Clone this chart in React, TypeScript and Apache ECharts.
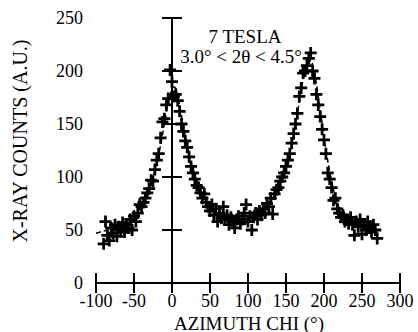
import React, { useEffect, useRef } from "react";
import * as echarts from "echarts";

const chiValues: number[] = [
  -90, -87.5, -85, -82.5, -80, -77.5, -75, -72.5, -70, -67.5, -65, -62.5, -60, -57.5, -55, -52.5,
  -50, -47.5, -45, -42.5, -40, -37.5, -35, -32.5, -30, -27.5, -25, -22.5, -20, -17.5, -15, -12.5,
  -10, -7.5, -5, -2.5, 0, 2.5, 5, 7.5, 10, 12.5, 15, 17.5, 20, 22.5, 25, 27.5, 30, 32.5, 35, 37.5,
  40, 42.5, 45, 47.5, 50, 52.5, 55, 57.5, 60, 62.5, 65, 67.5, 70, 72.5, 75, 77.5, 80, 82.5, 85, 87.5,
  90, 92.5, 95, 97.5, 100, 102.5, 105, 107.5, 110, 112.5, 115, 117.5, 120, 122.5, 125, 127.5, 130,
  132.5, 135, 137.5, 140, 142.5, 145, 147.5, 150, 152.5, 155, 157.5, 160, 162.5, 165, 167.5, 170,
  172.5, 175, 177.5, 180, 182.5, 185, 187.5, 190, 192.5, 195, 197.5, 200, 202.5, 205, 207.5, 210,
  212.5, 215, 217.5, 220, 222.5, 225, 227.5, 230, 232.5, 235, 237.5, 240, 242.5, 245, 247.5, 250,
  252.5, 255, 257.5, 260, 262.5, 265, 267.5, 270,
];

const countValues: number[] = [
  37, 58, 45, 40, 52, 47, 55, 44, 53, 50, 57, 48, 55, 52, 60, 50,
  63, 58, 66, 74, 72, 76, 80, 85, 89, 97, 96, 107, 116, 122, 137, 152,
  155, 168, 174, 201, 190, 176, 178, 172, 162, 150, 143, 134, 128, 119, 110, 104, 98, 92, 90, 85,
  80, 84, 76, 72, 68, 74, 64, 70, 58, 66, 61, 72, 60, 64, 55, 62, 58, 52, 60, 63,
  56, 60, 66, 74, 58, 63, 50, 62, 66, 60, 68, 64, 70, 66, 75, 72, 80,
  65, 84, 88, 90, 96, 100, 104, 110, 116, 122, 132, 141, 150, 160, 176, 184,
  198, 200, 205, 212, 217, 200, 193, 178, 168, 157, 145, 135, 122, 104, 98, 90,
  78, 80, 70, 66, 62, 64, 58, 60, 56, 62, 55, 45, 58, 53, 60, 46,
  55, 50, 58, 52, 48, 55, 50, 42,
];

const fitChi: number[] = [
  -100, -90, -80, -70, -60, -50, -40, -30, -25, -20, -15, -10, -5, 0, 3, 5, 10, 15, 20, 25, 30, 35,
  40, 50, 60, 70, 80, 90, 100, 110, 120, 130, 140, 150, 155, 160, 165, 170, 175, 180, 183, 185, 190,
  195, 200, 205, 210, 215, 220, 230, 240, 250, 260, 270,
];
const fitCounts: number[] = [
  47, 49, 51, 54, 58, 64, 74, 90, 100, 113, 130, 150, 170, 183, 185, 183, 168, 148, 130, 114, 101, 91,
  83, 72, 66, 62, 60, 59, 60, 63, 68, 77, 89, 108, 122, 140, 160, 182, 200, 209, 210, 206, 188,
  163, 138, 115, 96, 81, 71, 61, 56, 53, 51, 50,
];

const xTicks = { min: -100, max: 300, interval: 50 };
const yTicks = { min: 0, max: 250, interval: 50 };

const FONT = "Liberation Serif, Times New Roman, serif";
const PLUS = "path://M3.85,0H6.15V3.85H10V6.15H6.15V10H3.85V6.15H0V3.85H3.85Z";

export default function App() {
  const ref = useRef<HTMLDivElement>(null);
  useEffect(() => {
    if (!ref.current) return;
    const chart = echarts.init(ref.current, undefined, { renderer: "svg" });
    const axisLine = { show: true, lineStyle: { color: "#000", width: 2 } };
    const axisTick = { show: true, inside: true, length: 10, lineStyle: { color: "#000", width: 2 } };
    const label = { color: "#000", fontFamily: FONT, fontSize: 18 };
    chart.setOption({
      animation: false,
      backgroundColor: "#fff",
      textStyle: { fontFamily: FONT },
      grid: { left: 96, right: 18, top: 18, bottom: 49, containLabel: false },
      xAxis: [
        {
          type: "value", ...xTicks, position: "bottom",
          axisLine, axisTick, splitLine: { show: false },
          axisLabel: { ...label, margin: 9 },
        },
        {
          type: "value", ...xTicks, position: "top",
          axisLine, axisTick, splitLine: { show: false }, axisLabel: { show: false },
        },
      ],
      yAxis: [
        {
          type: "value", ...yTicks, position: "left",
          axisLine, axisTick, splitLine: { show: false },
          axisLabel: { ...label, margin: 13 },
        },
        {
          type: "value", ...yTicks, position: "right",
          axisLine, axisTick, splitLine: { show: false }, axisLabel: { show: false },
        },
      ],
      series: [
        {
          type: "line",
          data: fitChi.map((c, i) => [c, fitCounts[i]]),
          smooth: 0.3,
          symbol: "none",
          lineStyle: { color: "#000", width: 1.5, type: [5, 3] },
          z: 2,
          markLine: {
            silent: true,
            symbol: "none",
            label: { show: false },
            lineStyle: { color: "#000", width: 1, type: [1.5, 2.5] },
            data: [[{ coord: [0, 0] }, { coord: [0, 250] }]],
          },
        },
        {
          type: "scatter",
          data: chiValues.map((c, i) => [c, countValues[i]]),
          symbol: PLUS,
          symbolSize: 12,
          itemStyle: { color: "#000", opacity: 1 },
          z: 3,
        },
      ],
      graphic: [
        {
          type: "text", x: 245, y: 36,
          style: { text: "7 TESLA", fontFamily: FONT, fontSize: 19, fill: "#000", align: "center", verticalAlign: "middle" },
        },
        {
          type: "text", x: 241, y: 56,
          style: { text: "3.0° < 2θ < 4.5°", fontFamily: FONT, fontSize: 19, fill: "#000", align: "center", verticalAlign: "middle" },
        },
        {
          type: "text", x: 249, y: 323,
          style: { text: "AZIMUTH CHI (°)", fontFamily: FONT, fontSize: 19, fill: "#000", align: "center", verticalAlign: "middle" },
        },
        {
          type: "text", x: 20, y: 141, rotation: Math.PI / 2,
          style: { text: "X-RAY COUNTS (A.U.)", fontFamily: FONT, fontSize: 20, fill: "#000", align: "center", verticalAlign: "middle" },
        },
      ],
    });
    return () => chart.dispose();
  }, []);
  return <div ref={ref} style={{ width: 418, height: 332, position: "absolute", left: 0, top: 0 }} />;
}
